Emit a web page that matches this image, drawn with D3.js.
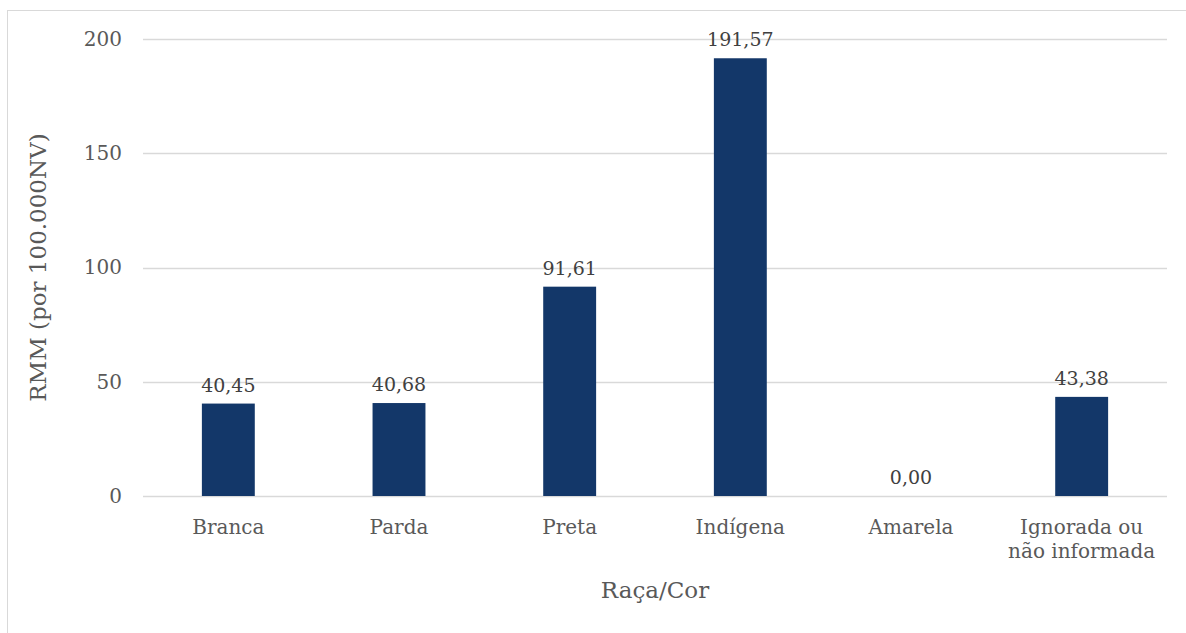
<!DOCTYPE html>
<html lang="pt">
<head>
    <meta charset="UTF-8">
    <title>RMM por Raça/Cor</title>
    <script src="https://d3js.org/d3.v7.min.js"></script>
    <style>
        body {
            margin: 0;
            padding: 0;
            background-color: #fff;
            overflow: hidden;
        }
        text {
            font-family: "DejaVu Serif", Georgia, serif;
        }
    </style>
</head>
<body>
    <div id="chart"></div>
    <script>
        const width = 1186;
        const height = 633;

        // Data
        const categories = ["Branca", "Parda", "Preta", "Indígena", "Amarela", "Ignorada ou\nnão informada"];
        const values = [40.45, 40.68, 91.61, 191.57, 0.00, 43.38];
        const yTicks = [0, 50, 100, 150, 200];

        const margin = {top: 39, right: 19, bottom: 137, left: 143};

        const svg = d3.select("#chart")
            .append("svg")
            .attr("width", width)
            .attr("height", height);

        // Chart border
        svg.append("rect")
            .attr("x", 7.5)
            .attr("y", 10.5)
            .attr("width", width)
            .attr("height", height)
            .attr("fill", "none")
            .attr("stroke", "#d9d9d9");

        const x = d3.scaleBand()
            .domain(categories)
            .range([margin.left, width - margin.right])
            .paddingInner(0.69)
            .paddingOuter(0.345);

        const y = d3.scaleLinear()
            .domain([0, 200])
            .range([height - margin.bottom, margin.top]);

        // Gridlines
        svg.append("g")
            .selectAll("line")
            .data(yTicks)
            .enter().append("line")
            .attr("x1", margin.left)
            .attr("x2", width - margin.right)
            .attr("y1", d => Math.round(y(d)) + 0.5)
            .attr("y2", d => Math.round(y(d)) + 0.5)
            .attr("stroke", "#d9d9d9")
            .attr("stroke-width", 1.3);

        // Y axis labels
        const yAxis = d3.axisLeft(y)
            .tickValues(yTicks)
            .tickSize(0)
            .tickPadding(21)
            .tickFormat(d3.format("d"));

        const yg = svg.append("g")
            .attr("transform", `translate(${margin.left},0)`)
            .call(yAxis);
        yg.select(".domain").remove();
        yg.selectAll("text")
            .attr("fill", "#595959")
            .style("font-family", '"DejaVu Serif", Georgia, serif')
            .style("font-size", "20px");

        // Bars
        svg.append("g")
            .selectAll("rect")
            .data(values)
            .enter().append("rect")
            .attr("x", (d, i) => x(categories[i]))
            .attr("y", d => y(d))
            .attr("width", x.bandwidth())
            .attr("height", d => y(0) - y(d))
            .attr("fill", "#133769");

        // Data labels
        const fmt = d3.formatLocale({decimal: ",", thousands: ".", grouping: [3], currency: ["R$", ""]}).format(".2f");
        svg.append("g")
            .selectAll("text")
            .data(values)
            .enter().append("text")
            .attr("x", (d, i) => x(categories[i]) + x.bandwidth() / 2)
            .attr("y", d => y(d) - 12)
            .attr("text-anchor", "middle")
            .attr("fill", "#404040")
            .style("font-size", "19px")
            .text(d => fmt(d));

        // X axis labels
        const xl = svg.append("g")
            .selectAll("text")
            .data(categories)
            .enter().append("text")
            .attr("x", d => x(d) + x.bandwidth() / 2)
            .attr("y", y(0) + 38)
            .attr("text-anchor", "middle")
            .attr("fill", "#595959")
            .style("font-size", "20px");
        xl.selectAll("tspan")
            .data(d => d.split("\n"))
            .enter().append("tspan")
            .attr("x", function() { return this.parentNode.getAttribute("x"); })
            .attr("dy", (d, i) => i === 0 ? 0 : 24)
            .text(d => d);

        // Axis titles
        svg.append("text")
            .attr("x", (margin.left + width - margin.right) / 2)
            .attr("y", 598)
            .attr("text-anchor", "middle")
            .attr("fill", "#595959")
            .style("font-size", "23px")
            .text("Raça/Cor");

        svg.append("text")
            .attr("transform", `translate(46,${(margin.top + height - margin.bottom) / 2}) rotate(-90)`)
            .attr("text-anchor", "middle")
            .attr("fill", "#595959")
            .style("font-size", "23px")
            .text("RMM (por 100.000NV)");
    </script>
</body>
</html>
